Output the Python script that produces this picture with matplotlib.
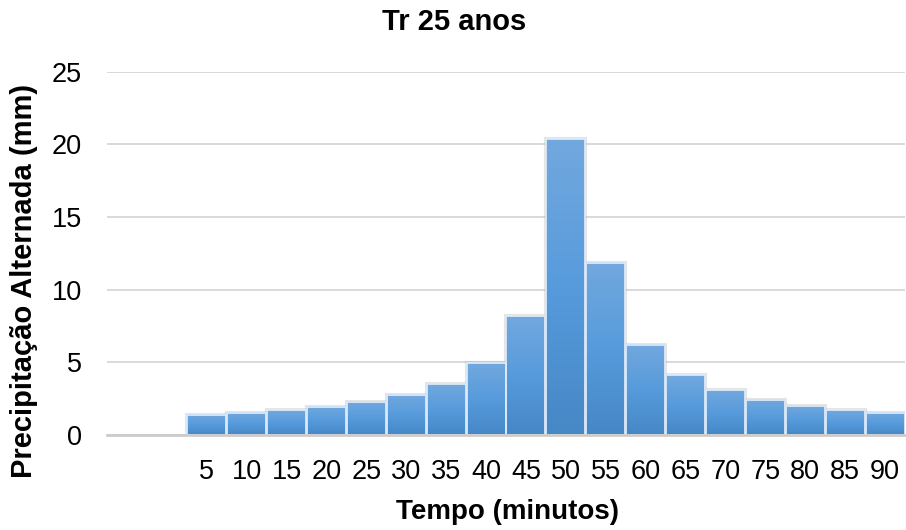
import matplotlib
matplotlib.use("Agg")
import matplotlib.pyplot as plt
import numpy as np
from matplotlib.colors import LinearSegmentedColormap

plt.rcParams['font.family'] = ['Liberation Sans', 'DejaVu Sans']

# dados (Tr 25 anos) - blocos alternados
tempo = [5, 10, 15, 20, 25, 30, 35, 40, 45, 50, 55, 60, 65, 70, 75, 80, 85, 90]
precip = [1.40, 1.52, 1.70, 1.96, 2.30, 2.76, 3.50, 4.95, 8.18, 20.34,
          11.86, 6.22, 4.10, 3.09, 2.44, 2.03, 1.71, 1.52]
n_vazio = 2  # duas categorias vazias no inicio do eixo

categorias = [''] * n_vazio + [str(t) for t in tempo]
pos = np.arange(len(categorias))
pos_barras = pos[n_vazio:]

cmap = LinearSegmentedColormap.from_list("azul", ["#4687c6", "#579bdc", "#72a8de"])

fig = plt.figure(figsize=(9.06, 5.3), dpi=100)
ax = fig.add_axes([107/906, 1-435/530, (905-107)/906, (435-71.7)/530])

largura = 0.975
# sombra
ax.bar(pos_barras, precip, width=largura, color='none', edgecolor='#9a9a9a',
       linewidth=3.0, alpha=0.25, zorder=2)
grad = np.linspace(0, 1, 256).reshape(-1, 1)
for x, h in zip(pos_barras, precip):
    ax.imshow(grad, extent=(x - largura/2, x + largura/2, 0, h), origin='lower',
              cmap=cmap, aspect='auto', zorder=3, interpolation='bilinear')
ax.bar(pos_barras, precip, width=largura, color='none', edgecolor='#dbe9f7',
       linewidth=1.3, zorder=4)

ax.set_xlim(-0.5, len(categorias) - 0.5)
ax.set_ylim(0, 25)
ax.set_yticks(range(0, 26, 5))
ax.set_xticks(pos)
ax.set_xticklabels(categorias)

ax.yaxis.grid(True, color='#d9d9d9', linewidth=1.4, zorder=0)
ax.set_axisbelow(True)
for s in ['top', 'right', 'left']:
    ax.spines[s].set_visible(False)
ax.spines['bottom'].set_color('#cccccc')
ax.spines['bottom'].set_linewidth(2.0)
ax.spines['bottom'].set_zorder(5)

ax.tick_params(axis='both', length=0, labelsize=19.5, colors='black')
ax.tick_params(axis='y', pad=18)
ax.tick_params(axis='x', pad=17)

fig.text(454/906, 1-22/530, 'Tr 25 anos', ha='center', va='center',
         fontsize=21, fontweight='bold')
fig.text(508/906, 1-512/530, 'Tempo (minutos)', ha='center', va='center',
         fontsize=20, fontweight='bold')
fig.text(24/906, 1-281/530, 'Precipitação Alternada (mm)', ha='center', va='center',
         rotation=90, fontsize=21, fontweight='bold')

plt.savefig("out.png", dpi=100)
plt.close()
